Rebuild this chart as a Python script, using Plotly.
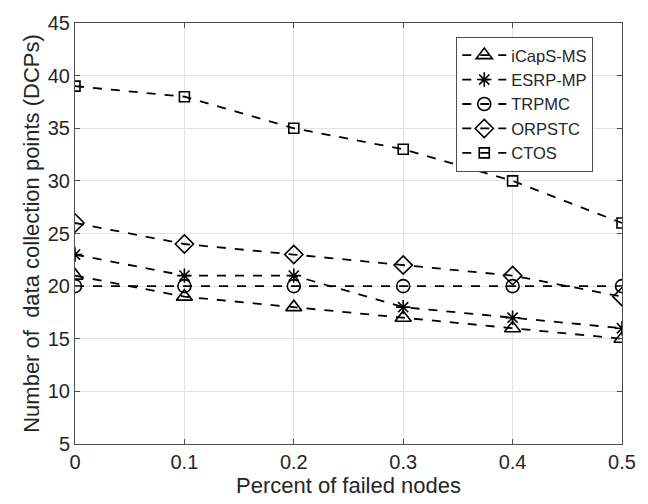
import plotly.graph_objects as go

x_vals = [0, 0.1, 0.2, 0.3, 0.4, 0.5]
icaps_ms = [21, 19, 18, 17, 16, 15]
esrp_mp = [23, 21, 21, 18, 17, 16]
trpmc = [20, 20, 20, 20, 20, 20]
orpstc = [26, 24, 23, 22, 21, 19]
ctos = [39, 38, 35, 33, 30, 26]

series = [
    ("iCapS-MS", icaps_ms, "triangle-up-open", 14),
    ("ESRP-MP", esrp_mp, "asterisk-open", 12),
    ("TRPMC", trpmc, "circle-open", 13),
    ("ORPSTC", orpstc, "diamond-open", 14),
    ("CTOS", ctos, "square-open", 10),
]

fig = go.Figure()
for name, ys, sym, sz in series:
    fig.add_trace(go.Scatter(
        x=x_vals, y=ys, name=name, mode="lines+markers",
        line=dict(color="black", width=1.8, dash="dash"),
        marker=dict(symbol=sym, size=sz, color="black",
                    line=dict(color="black", width=1.6)),
    ))

axis_common = dict(
    showgrid=True, gridcolor="#e3e3e3", gridwidth=1,
    showline=True, linecolor="#4d4d4d", linewidth=1, mirror="ticks",
    ticks="inside", ticklen=5, tickcolor="#4d4d4d",
    zeroline=False,
    tickfont=dict(family="Liberation Sans, Arial", size=20, color="#262626"),
)

fig.update_layout(
    width=648, height=504,
    margin=dict(l=75, r=25, t=15, b=60),
    paper_bgcolor="white", plot_bgcolor="white",
    font=dict(family="Liberation Sans, Arial", color="#262626"),
    xaxis=dict(range=[0, 0.5], tickvals=[0, 0.1, 0.2, 0.3, 0.4, 0.5],
               ticktext=["0", "0.1", "0.2", "0.3", "0.4", "0.5"],
               title=dict(text="Percent of failed nodes", font=dict(size=22), standoff=4),
               **axis_common),
    yaxis=dict(range=[5, 45], tickvals=[5, 10, 15, 20, 25, 30, 35, 40, 45],
               title=dict(text="Number of\u00a0 data collection points (DCPs)", font=dict(size=22), standoff=2),
               **axis_common),
    legend=dict(x=0.697, y=0.967, xanchor="left", yanchor="top",
                bgcolor="white", bordercolor="#4d4d4d", borderwidth=1,
                font=dict(size=16.5, color="#262626"),
                itemwidth=44, tracegroupgap=0),
    showlegend=True,
)

fig.write_html("out.html")
